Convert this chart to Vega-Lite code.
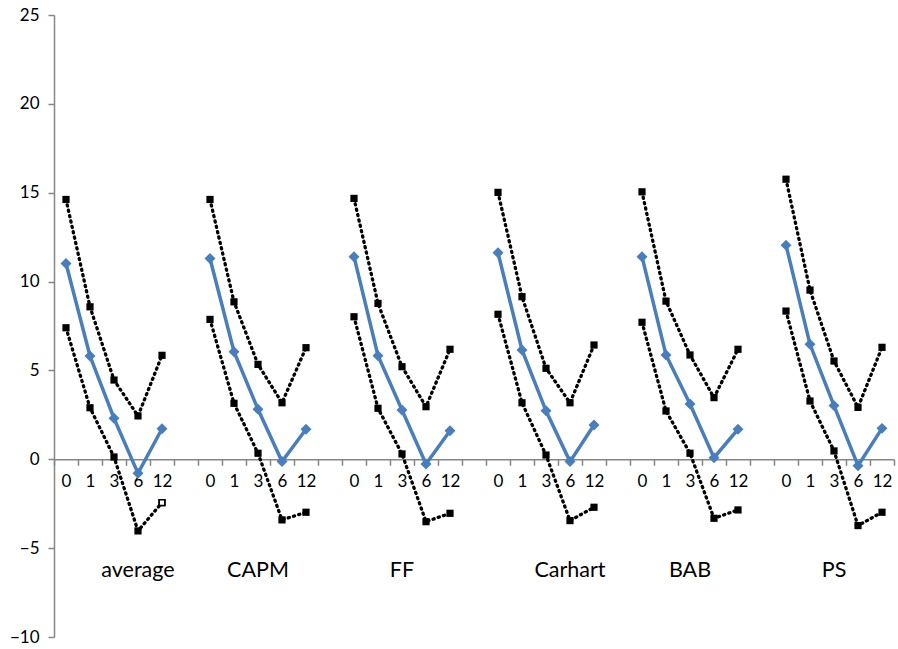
{
  "$schema": "https://vega.github.io/schema/vega-lite/v6.json",
  "width": 840,
  "height": 622,
  "autosize": {"type": "none"},
  "padding": {"left": 54, "top": 15, "right": 4, "bottom": 12},
  "config": {"view": {"stroke": null}, "font": "Lato"},
  "data": {"values": [
    {"key":"average|0","group":"average","series":"mid","value":11.02},
    {"key":"average|1","group":"average","series":"mid","value":5.81},
    {"key":"average|3","group":"average","series":"mid","value":2.31},
    {"key":"average|6","group":"average","series":"mid","value":-0.79},
    {"key":"average|12","group":"average","series":"mid","value":1.72},
    {"key":"average|0","group":"average","series":"upper","value":14.62},
    {"key":"average|1","group":"average","series":"upper","value":8.58},
    {"key":"average|3","group":"average","series":"upper","value":4.46},
    {"key":"average|6","group":"average","series":"upper","value":2.44},
    {"key":"average|12","group":"average","series":"upper","value":5.85},
    {"key":"average|0","group":"average","series":"lower","value":7.40},
    {"key":"average|1","group":"average","series":"lower","value":2.90},
    {"key":"average|3","group":"average","series":"lower","value":0.13},
    {"key":"average|6","group":"average","series":"lower","value":-4.03},
    {"key":"average|12","group":"average","series":"lower","value":-2.44},

    {"key":"CAPM|0","group":"CAPM","series":"mid","value":11.30},
    {"key":"CAPM|1","group":"CAPM","series":"mid","value":6.05},
    {"key":"CAPM|3","group":"CAPM","series":"mid","value":2.81},
    {"key":"CAPM|6","group":"CAPM","series":"mid","value":-0.13},
    {"key":"CAPM|12","group":"CAPM","series":"mid","value":1.69},
    {"key":"CAPM|0","group":"CAPM","series":"upper","value":14.62},
    {"key":"CAPM|1","group":"CAPM","series":"upper","value":8.86},
    {"key":"CAPM|3","group":"CAPM","series":"upper","value":5.34},
    {"key":"CAPM|6","group":"CAPM","series":"upper","value":3.18},
    {"key":"CAPM|12","group":"CAPM","series":"upper","value":6.28},
    {"key":"CAPM|0","group":"CAPM","series":"lower","value":7.87},
    {"key":"CAPM|1","group":"CAPM","series":"lower","value":3.15},
    {"key":"CAPM|3","group":"CAPM","series":"lower","value":0.34},
    {"key":"CAPM|6","group":"CAPM","series":"lower","value":-3.41},
    {"key":"CAPM|12","group":"CAPM","series":"lower","value":-2.98},

    {"key":"FF|0","group":"FF","series":"mid","value":11.40},
    {"key":"FF|1","group":"FF","series":"mid","value":5.83},
    {"key":"FF|3","group":"FF","series":"mid","value":2.77},
    {"key":"FF|6","group":"FF","series":"mid","value":-0.26},
    {"key":"FF|12","group":"FF","series":"mid","value":1.61},
    {"key":"FF|0","group":"FF","series":"upper","value":14.68},
    {"key":"FF|1","group":"FF","series":"upper","value":8.77},
    {"key":"FF|3","group":"FF","series":"upper","value":5.21},
    {"key":"FF|6","group":"FF","series":"upper","value":2.96},
    {"key":"FF|12","group":"FF","series":"upper","value":6.19},
    {"key":"FF|0","group":"FF","series":"lower","value":8.02},
    {"key":"FF|1","group":"FF","series":"lower","value":2.87},
    {"key":"FF|3","group":"FF","series":"lower","value":0.30},
    {"key":"FF|6","group":"FF","series":"lower","value":-3.51},
    {"key":"FF|12","group":"FF","series":"lower","value":-3.04},

    {"key":"Carhart|0","group":"Carhart","series":"mid","value":11.62},
    {"key":"Carhart|1","group":"Carhart","series":"mid","value":6.15},
    {"key":"Carhart|3","group":"Carhart","series":"mid","value":2.73},
    {"key":"Carhart|6","group":"Carhart","series":"mid","value":-0.13},
    {"key":"Carhart|12","group":"Carhart","series":"mid","value":1.93},
    {"key":"Carhart|0","group":"Carhart","series":"upper","value":15.02},
    {"key":"Carhart|1","group":"Carhart","series":"upper","value":9.15},
    {"key":"Carhart|3","group":"Carhart","series":"upper","value":5.12},
    {"key":"Carhart|6","group":"Carhart","series":"upper","value":3.18},
    {"key":"Carhart|12","group":"Carhart","series":"upper","value":6.43},
    {"key":"Carhart|0","group":"Carhart","series":"lower","value":8.16},
    {"key":"Carhart|1","group":"Carhart","series":"lower","value":3.18},
    {"key":"Carhart|3","group":"Carhart","series":"lower","value":0.24},
    {"key":"Carhart|6","group":"Carhart","series":"lower","value":-3.45},
    {"key":"Carhart|12","group":"Carhart","series":"lower","value":-2.70},

    {"key":"BAB|0","group":"BAB","series":"mid","value":11.40},
    {"key":"BAB|1","group":"BAB","series":"mid","value":5.87},
    {"key":"BAB|3","group":"BAB","series":"mid","value":3.11},
    {"key":"BAB|6","group":"BAB","series":"mid","value":0.09},
    {"key":"BAB|12","group":"BAB","series":"mid","value":1.69},
    {"key":"BAB|0","group":"BAB","series":"upper","value":15.05},
    {"key":"BAB|1","group":"BAB","series":"upper","value":8.90},
    {"key":"BAB|3","group":"BAB","series":"upper","value":5.87},
    {"key":"BAB|6","group":"BAB","series":"upper","value":3.47},
    {"key":"BAB|12","group":"BAB","series":"upper","value":6.19},
    {"key":"BAB|0","group":"BAB","series":"lower","value":7.71},
    {"key":"BAB|1","group":"BAB","series":"lower","value":2.72},
    {"key":"BAB|3","group":"BAB","series":"lower","value":0.34},
    {"key":"BAB|6","group":"BAB","series":"lower","value":-3.32},
    {"key":"BAB|12","group":"BAB","series":"lower","value":-2.85},

    {"key":"PS|0","group":"PS","series":"mid","value":12.05},
    {"key":"PS|1","group":"PS","series":"mid","value":6.47},
    {"key":"PS|3","group":"PS","series":"mid","value":3.02},
    {"key":"PS|6","group":"PS","series":"mid","value":-0.36},
    {"key":"PS|12","group":"PS","series":"mid","value":1.74},
    {"key":"PS|0","group":"PS","series":"upper","value":15.76},
    {"key":"PS|1","group":"PS","series":"upper","value":9.52},
    {"key":"PS|3","group":"PS","series":"upper","value":5.53},
    {"key":"PS|6","group":"PS","series":"upper","value":2.92},
    {"key":"PS|12","group":"PS","series":"upper","value":6.30},
    {"key":"PS|0","group":"PS","series":"lower","value":8.34},
    {"key":"PS|1","group":"PS","series":"lower","value":3.28},
    {"key":"PS|3","group":"PS","series":"lower","value":0.47},
    {"key":"PS|6","group":"PS","series":"lower","value":-3.73},
    {"key":"PS|12","group":"PS","series":"lower","value":-2.98}
  ]},
  "encoding": {
    "x": {
      "field": "key", "type": "nominal",
      "sort": ["average|0","average|1","average|3","average|6","average|12","gap1",
               "CAPM|0","CAPM|1","CAPM|3","CAPM|6","CAPM|12","gap2",
               "FF|0","FF|1","FF|3","FF|6","FF|12","gap3",
               "Carhart|0","Carhart|1","Carhart|3","Carhart|6","Carhart|12","gap4",
               "BAB|0","BAB|1","BAB|3","BAB|6","BAB|12","gap5",
               "PS|0","PS|1","PS|3","PS|6","PS|12"],
      "scale": {"type": "band", "paddingInner": 0, "paddingOuter": 0,
        "domain": ["average|0","average|1","average|3","average|6","average|12","gap1",
                   "CAPM|0","CAPM|1","CAPM|3","CAPM|6","CAPM|12","gap2",
                   "FF|0","FF|1","FF|3","FF|6","FF|12","gap3",
                   "Carhart|0","Carhart|1","Carhart|3","Carhart|6","Carhart|12","gap4",
                   "BAB|0","BAB|1","BAB|3","BAB|6","BAB|12","gap5",
                   "PS|0","PS|1","PS|3","PS|6","PS|12"]},
      "axis": {
        "title": null, "offset": -177.7, "tickBand": "extent",
        "labelAngle": 0, "labelOverlap": false,
        "labelExpr": "isString(datum.value) && indexof(datum.value, '|') >= 0 ? split(datum.value, '|')[1] : ''",
        "labelFont": "Lato", "labelFontSize": 17, "labelColor": "#000", "labelPadding": 8,
        "tickSize": 6, "tickColor": "#868686", "tickWidth": 1.5,
        "domainColor": "#868686", "domainWidth": 1.5
      }
    },
    "y": {
      "field": "value", "type": "quantitative",
      "scale": {"domain": [-10, 25], "nice": false, "zero": false},
      "axis": {
        "title": null, "grid": false, "values": [-10, -5, 0, 5, 10, 15, 20, 25],
        "labelFont": "Lato", "labelFontSize": 17, "labelColor": "#000", "labelPadding": 9,
        "tickSize": 6, "tickColor": "#868686", "tickWidth": 1.5,
        "domainColor": "#868686", "domainWidth": 1.5
      }
    }
  },
  "layer": [
    {
      "transform": [{"filter": "datum.series === 'mid'"}],
      "mark": {"type": "line", "color": "#4A7EBB", "strokeWidth": 3.5},
      "encoding": {"detail": {"field": "group"}}
    },
    {
      "transform": [{"filter": "datum.series !== 'mid'"}],
      "mark": {"type": "line", "color": "#000", "strokeWidth": 3.3, "strokeDash": [1.2, 4.3], "strokeCap": "round"},
      "encoding": {"detail": [{"field": "group"}, {"field": "series"}]}
    },
    {
      "transform": [{"filter": "datum.series === 'mid'"}],
      "mark": {"type": "point", "shape": "diamond", "filled": true, "size": 120, "color": "#4A7EBB", "opacity": 1}
    },
    {
      "transform": [{"filter": "datum.series !== 'mid'"}],
      "mark": {"type": "point", "shape": "square", "filled": true, "size": 52, "color": "#000", "opacity": 1}
    },
    {
      "transform": [{"filter": "datum.key === 'average|12' && datum.series === 'lower'"}],
      "mark": {"type": "point", "shape": "square", "filled": true, "size": 32, "fill": "#fff", "stroke": "#000", "strokeWidth": 1.6, "opacity": 1}
    },
    {
      "data": {"values": [
        {"key": "average|6", "label": "average", "value": -6.3},
        {"key": "CAPM|3", "label": "CAPM", "value": -6.3},
        {"key": "FF|3", "label": "FF", "value": -6.3},
        {"key": "Carhart|6", "label": "Carhart", "value": -6.3},
        {"key": "BAB|3", "label": "BAB", "value": -6.3},
        {"key": "PS|3", "label": "PS", "value": -6.3}
      ]},
      "mark": {"type": "text", "font": "Lato", "fontSize": 21.5, "color": "#000", "align": "center", "baseline": "middle"},
      "encoding": {"text": {"field": "label"}}
    }
  ]
}
